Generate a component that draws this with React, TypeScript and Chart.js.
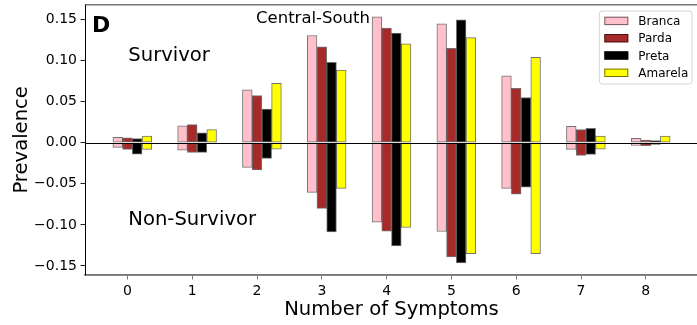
import React, { useEffect, useRef } from "react";
import { Chart, registerables } from "chart.js";

Chart.register(...registerables);

// ---------------- data ----------------
const categories = [0, 1, 2, 3, 4, 5, 6, 7, 8];
const seriesNames = ["Branca", "Parda", "Preta", "Amarela"];
const seriesColors = ["#ffc0cb", "#a52a2a", "#000000", "#ffff00"];
const barOffsets = [-0.15, 0, 0.15, 0.3];

const brancaSurvivor = [0.0065, 0.0207, 0.0643, 0.1305, 0.1533, 0.1448, 0.0813, 0.02, 0.0054];
const pardaSurvivor = [0.006, 0.022, 0.0573, 0.1167, 0.1395, 0.115, 0.0663, 0.0159, 0.0033];
const pretaSurvivor = [0.005, 0.012, 0.041, 0.098, 0.1334, 0.1496, 0.0549, 0.0176, 0.0025];
const amarelaSurvivor = [0.008, 0.016, 0.0724, 0.0883, 0.1204, 0.128, 0.104, 0.0082, 0.0082];

const brancaNonSurvivor = [-0.0056, -0.009, -0.03, -0.0605, -0.0967, -0.108, -0.0556, -0.008, -0.0032];
const pardaNonSurvivor = [-0.008, -0.0118, -0.033, -0.08, -0.1077, -0.139, -0.0626, -0.0154, -0.0036];
const pretaNonSurvivor = [-0.0138, -0.0118, -0.019, -0.1085, -0.1256, -0.1463, -0.054, -0.0142, -0.002];
const amarelaNonSurvivor = [-0.008, -0.0005, -0.0077, -0.0556, -0.1032, -0.1349, -0.1349, -0.0078, 0];

const yTickValues = [-0.15, -0.1, -0.05, 0, 0.05, 0.1, 0.15];
const xTickValues = categories;

const survivorSeries = [brancaSurvivor, pardaSurvivor, pretaSurvivor, amarelaSurvivor];
const nonSurvivorSeries = [brancaNonSurvivor, pardaNonSurvivor, pretaNonSurvivor, amarelaNonSurvivor];

const FONT = "'DejaVu Sans', sans-serif";
const EDGE = "rgba(0,0,0,0.55)";

const overlayPlugin = {
  id: "overlay",
  afterDatasetsDraw(chart: any) {
    const { ctx, chartArea, scales } = chart;
    const y0 = scales.y.getPixelForValue(0);
    ctx.save();
    ctx.strokeStyle = "#000";
    ctx.lineWidth = 1;
    ctx.beginPath();
    ctx.moveTo(chartArea.left, Math.round(y0) + 0.5);
    ctx.lineTo(chartArea.right, Math.round(y0) + 0.5);
    ctx.stroke();
    ctx.restore();
  },
  afterDraw(chart: any) {
    const { ctx, chartArea } = chart;
    ctx.save();
    // frame
    ctx.strokeStyle = "#777";
    ctx.lineWidth = 1.6;
    ctx.beginPath();
    ctx.moveTo(chartArea.left, chartArea.top);
    ctx.lineTo(chartArea.right, chartArea.top);
    ctx.stroke();
    ctx.beginPath();
    ctx.moveTo(chartArea.left, chartArea.bottom);
    ctx.lineTo(chartArea.right, chartArea.bottom);
    ctx.stroke();
    ctx.strokeStyle = "#000";
    ctx.lineWidth = 1;
    ctx.beginPath();
    ctx.moveTo(chartArea.left + 0.5, chartArea.top);
    ctx.lineTo(chartArea.left + 0.5, chartArea.bottom);
    ctx.stroke();

    // texts
    ctx.fillStyle = "#000";
    ctx.textAlign = "left";
    ctx.textBaseline = "alphabetic";
    ctx.font = `bold 22px ${FONT}`;
    ctx.fillText("D", 92, 31.7);
    ctx.font = `19.6px ${FONT}`;
    ctx.fillText("Survivor", 128.3, 61);
    ctx.fillText("Non-Survivor", 128.3, 225);
    ctx.font = `16.5px ${FONT}`;
    ctx.fillText("Central-South", 256, 22.7);

    // axis titles
    ctx.font = `19.6px ${FONT}`;
    ctx.textAlign = "center";
    ctx.fillText("Number of Symptoms", (chartArea.left + 698) / 2, 315);
    ctx.save();
    ctx.translate(26.5, (chartArea.top + chartArea.bottom) / 2);
    ctx.rotate(-Math.PI / 2);
    ctx.fillText("Prevalence", 0, 0);
    ctx.restore();

    // legend
    const lx = 599.3, ly = 11, lw = 92.7, lh = 73;
    ctx.beginPath();
    const r = 3;
    ctx.moveTo(lx + r, ly);
    ctx.lineTo(lx + lw - r, ly);
    ctx.quadraticCurveTo(lx + lw, ly, lx + lw, ly + r);
    ctx.lineTo(lx + lw, ly + lh - r);
    ctx.quadraticCurveTo(lx + lw, ly + lh, lx + lw - r, ly + lh);
    ctx.lineTo(lx + r, ly + lh);
    ctx.quadraticCurveTo(lx, ly + lh, lx, ly + lh - r);
    ctx.lineTo(lx, ly + r);
    ctx.quadraticCurveTo(lx, ly, lx + r, ly);
    ctx.closePath();
    ctx.fillStyle = "rgba(255,255,255,0.85)";
    ctx.fill();
    ctx.strokeStyle = "#d4d4d4";
    ctx.lineWidth = 1;
    ctx.stroke();
    ctx.font = `12px ${FONT}`;
    ctx.textAlign = "left";
    seriesNames.forEach((name, i) => {
      const py = 16.7 + i * 17.3;
      ctx.fillStyle = seriesColors[i];
      ctx.fillRect(604.3, py, 24, 8.4);
      ctx.strokeStyle = EDGE;
      ctx.lineWidth = 1;
      ctx.strokeRect(604.8, py + 0.5, 23, 7.4);
      ctx.fillStyle = "#000";
      ctx.fillText(name, 638.3, 25 + i * 17.3);
    });
    ctx.restore();
  },
};

export default function App() {
  const canvasRef = useRef<HTMLCanvasElement | null>(null);

  useEffect(() => {
    if (!canvasRef.current) return;
    const datasets: any[] = [];
    seriesNames.forEach((name, i) => {
      datasets.push({
        label: name,
        data: categories.map((c, k) => ({ x: c + barOffsets[i], y: survivorSeries[i][k] })),
        backgroundColor: seriesColors[i],
        borderColor: EDGE,
        borderWidth: 1,
        borderSkipped: false,
        barThickness: 9.7,
        grouped: false,
      });
      datasets.push({
        label: name + " (non-survivor)",
        data: categories.map((c, k) => ({ x: c + barOffsets[i], y: nonSurvivorSeries[i][k] })),
        backgroundColor: seriesColors[i],
        borderColor: EDGE,
        borderWidth: 1,
        borderSkipped: false,
        barThickness: 9.7,
        grouped: false,
      });
    });

    const chart = new Chart(canvasRef.current, {
      type: "bar",
      data: { datasets },
      plugins: [overlayPlugin],
      options: {
        animation: false,
        responsive: false,
        maintainAspectRatio: false,
        devicePixelRatio: 1,
        layout: { padding: { top: 4.7, right: 0, left: 0, bottom: 0 } },
        plugins: { legend: { display: false }, tooltip: { enabled: false } },
        scales: {
          x: {
            type: "linear",
            min: -0.655,
            max: 8.79,
            offset: false,
            afterFit(scale: any) {
              scale.height = 50;
              scale.paddingLeft = 0;
              scale.paddingRight = 0;
            },
            afterBuildTicks(scale: any) {
              scale.ticks = xTickValues.map((v) => ({ value: v }));
            },
            grid: {
              offset: false,
              drawOnChartArea: false,
              drawTicks: true,
              tickLength: 4.5,
              color: "#777",
            },
            border: { display: true, color: "#777", width: 1.6 },
            ticks: {
              autoSkip: false,
              maxRotation: 0,
              padding: 3,
              color: "#000",
              font: { family: FONT, size: 14 },
              callback: (v: any) => String(Math.round(Number(v))),
            },
          },
          y: {
            type: "linear",
            min: -0.161,
            max: 0.168,
            afterFit(scale: any) {
              scale.width = 85;
              scale.paddingTop = 0;
              scale.paddingBottom = 0;
            },
            afterBuildTicks(scale: any) {
              scale.ticks = yTickValues.map((v) => ({ value: v }));
            },
            grid: {
              offset: false,
              drawOnChartArea: false,
              drawTicks: true,
              tickLength: 4.5,
              color: "#222",
            },
            border: { display: true, color: "#000", width: 1 },
            ticks: {
              padding: 3.5,
              color: "#000",
              font: { family: FONT, size: 14 },
              callback: (v: any) => {
                const n = Number(v);
                const s = Math.abs(n).toFixed(2);
                return n < -1e-9 ? "\u2212" + s : s;
              },
            },
          },
        },
      },
    });
    return () => chart.destroy();
  }, []);

  return (
    <div style={{ position: "absolute", left: 0, top: 0, width: 697, height: 325, overflow: "hidden", background: "#fff" }}>
      <canvas ref={canvasRef} width={697} height={325} style={{ width: 697, height: 325, display: "block" }} />
    </div>
  );
}
